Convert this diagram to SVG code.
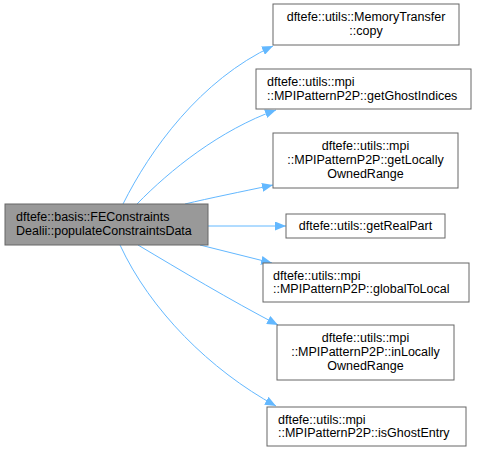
<svg xmlns="http://www.w3.org/2000/svg" width="481" height="452" viewBox="0 0 481 452">
<defs>
<style>
.n rect{fill:#ffffff;stroke:#666666;stroke-width:1}
.n.main rect{fill:#999999}
text{font-family:"Liberation Sans",Arial,Helvetica,sans-serif;font-size:12.5px;fill:#000000}
.c{text-anchor:middle}
.e path{fill:none;stroke:#63b8ff;stroke-width:1;marker-end:url(#ah)}
</style>
<marker id="ah" viewBox="0 0 11 9" refX="11" refY="4.5" markerWidth="11" markerHeight="9" markerUnits="userSpaceOnUse" orient="auto">
<path d="M0,0 L11,4.5 L0,9 Z" fill="#63b8ff" stroke="none"/>
</marker>
</defs>
<rect width="481" height="452" fill="#ffffff"/>
<g class="e" id="edges">
<path d="M123,204 C150,150 200,80 273,46"/>
<path d="M137,204 C170,170 220,130 276,110"/>
<path d="M185,204 C210,198 240,192 273,185"/>
<path d="M208,226 L286,226"/>
<path d="M200,245 L272,263"/>
<path d="M138,245 C180,270 230,300 278,325"/>
<path d="M120,245 C150,310 210,370 276,406"/>
</g>
<g class="n main" id="node-main">
<rect x="5" y="204" width="203" height="41"/>
<text x="16" y="221">dftefe::basis::FEConstraints</text>
<text x="16" y="235">Dealii::populateConstraintsData</text>
</g>
<g class="n" id="node-copy">
<rect x="273" y="4" width="186" height="41"/>
<text class="c" x="366" y="21">dftefe::utils::MemoryTransfer</text>
<text class="c" x="366" y="35">::copy</text>
</g>
<g class="n" id="node-getGhostIndices">
<rect x="256" y="69" width="215" height="40"/>
<text x="267" y="86">dftefe::utils::mpi</text>
<text x="267" y="100">::MPIPatternP2P::getGhostIndices</text>
</g>
<g class="n" id="node-getLocallyOwnedRange">
<rect x="273" y="133" width="185" height="55"/>
<text class="c" x="365.5" y="150">dftefe::utils::mpi</text>
<text class="c" x="365.5" y="164">::MPIPatternP2P::getLocally</text>
<text class="c" x="365.5" y="178">OwnedRange</text>
</g>
<g class="n" id="node-getRealPart">
<rect x="286" y="214" width="159" height="24"/>
<text class="c" x="365.5" y="230">dftefe::utils::getRealPart</text>
</g>
<g class="n" id="node-globalToLocal">
<rect x="263" y="263" width="206" height="39"/>
<text x="273" y="280">dftefe::utils::mpi</text>
<text x="273" y="293">::MPIPatternP2P::globalToLocal</text>
</g>
<g class="n" id="node-inLocallyOwnedRange">
<rect x="277" y="325" width="177" height="55"/>
<text class="c" x="365.5" y="342">dftefe::utils::mpi</text>
<text class="c" x="365.5" y="356">::MPIPatternP2P::inLocally</text>
<text class="c" x="365.5" y="370">OwnedRange</text>
</g>
<g class="n" id="node-isGhostEntry">
<rect x="267" y="407" width="199" height="39"/>
<text x="278" y="424">dftefe::utils::mpi</text>
<text x="278" y="437">::MPIPatternP2P::isGhostEntry</text>
</g>
</svg>
